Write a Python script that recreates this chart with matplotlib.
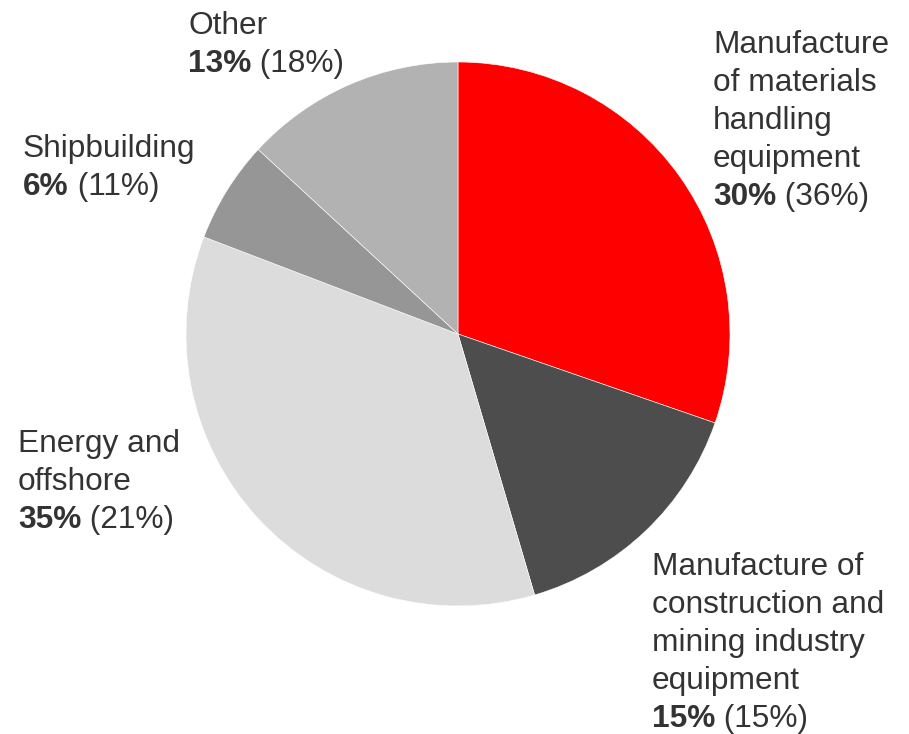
import matplotlib.pyplot as plt

plt.rcParams['font.family'] = ['Liberation Sans', 'DejaVu Sans']

W, H = 909, 734

# sector shares (%) and previous-year shares shown in brackets
names = [
    ["Manufacture", "of materials", "handling", "equipment"],
    ["Manufacture of", "construction and", "mining industry", "equipment"],
    ["Energy and", "offshore"],
    ["Shipbuilding"],
    ["Other"],
]
shares = [30, 15, 35, 6, 13]
prev_shares = [36, 15, 21, 11, 18]
colors = ["#ff0000", "#4d4d4d", "#dcdcdc", "#969696", "#b2b2b2"]

# left edge and baseline of the bold percentage line, in pixels from top-left
label_pos = [(713, 205), (652, 727), (18, 528), (23, 195), (188, 72)]

fig = plt.figure(figsize=(W / 100, H / 100), dpi=100)
cx, cy, r = 458, 334, 272
ax = fig.add_axes([(cx - r) / W, (H - cy - r) / H, 2 * r / W, 2 * r / H])
ax.pie(shares, colors=colors, startangle=90, counterclock=False,
       wedgeprops=dict(edgecolor="white", linewidth=0.4))
ax.set_xlim(-1, 1)
ax.set_ylim(-1, 1)
ax.axis("off")

fs = 22.8
txt_color = "#333333"
line_h = 38


def fxy(x, y):
    return x / W, 1 - y / H


for lines, s, p, (x, y) in zip(names, shares, prev_shares, label_pos):
    n = len(lines)
    for k, line in enumerate(lines):
        fig.text(*fxy(x, y - line_h * (n - k)), line, fontsize=fs,
                 color=txt_color, va="baseline", ha="left")
    bold = fig.text(*fxy(x, y), f"{s}%", fontsize=fs, fontweight="bold",
                    color=txt_color, va="baseline", ha="left")
    ax.annotate(f" ({p}%)", xy=(1, 0), xycoords=bold, fontsize=fs,
                color=txt_color, va="bottom", ha="left",
                annotation_clip=False)

fig.savefig("out.png", dpi=100)
